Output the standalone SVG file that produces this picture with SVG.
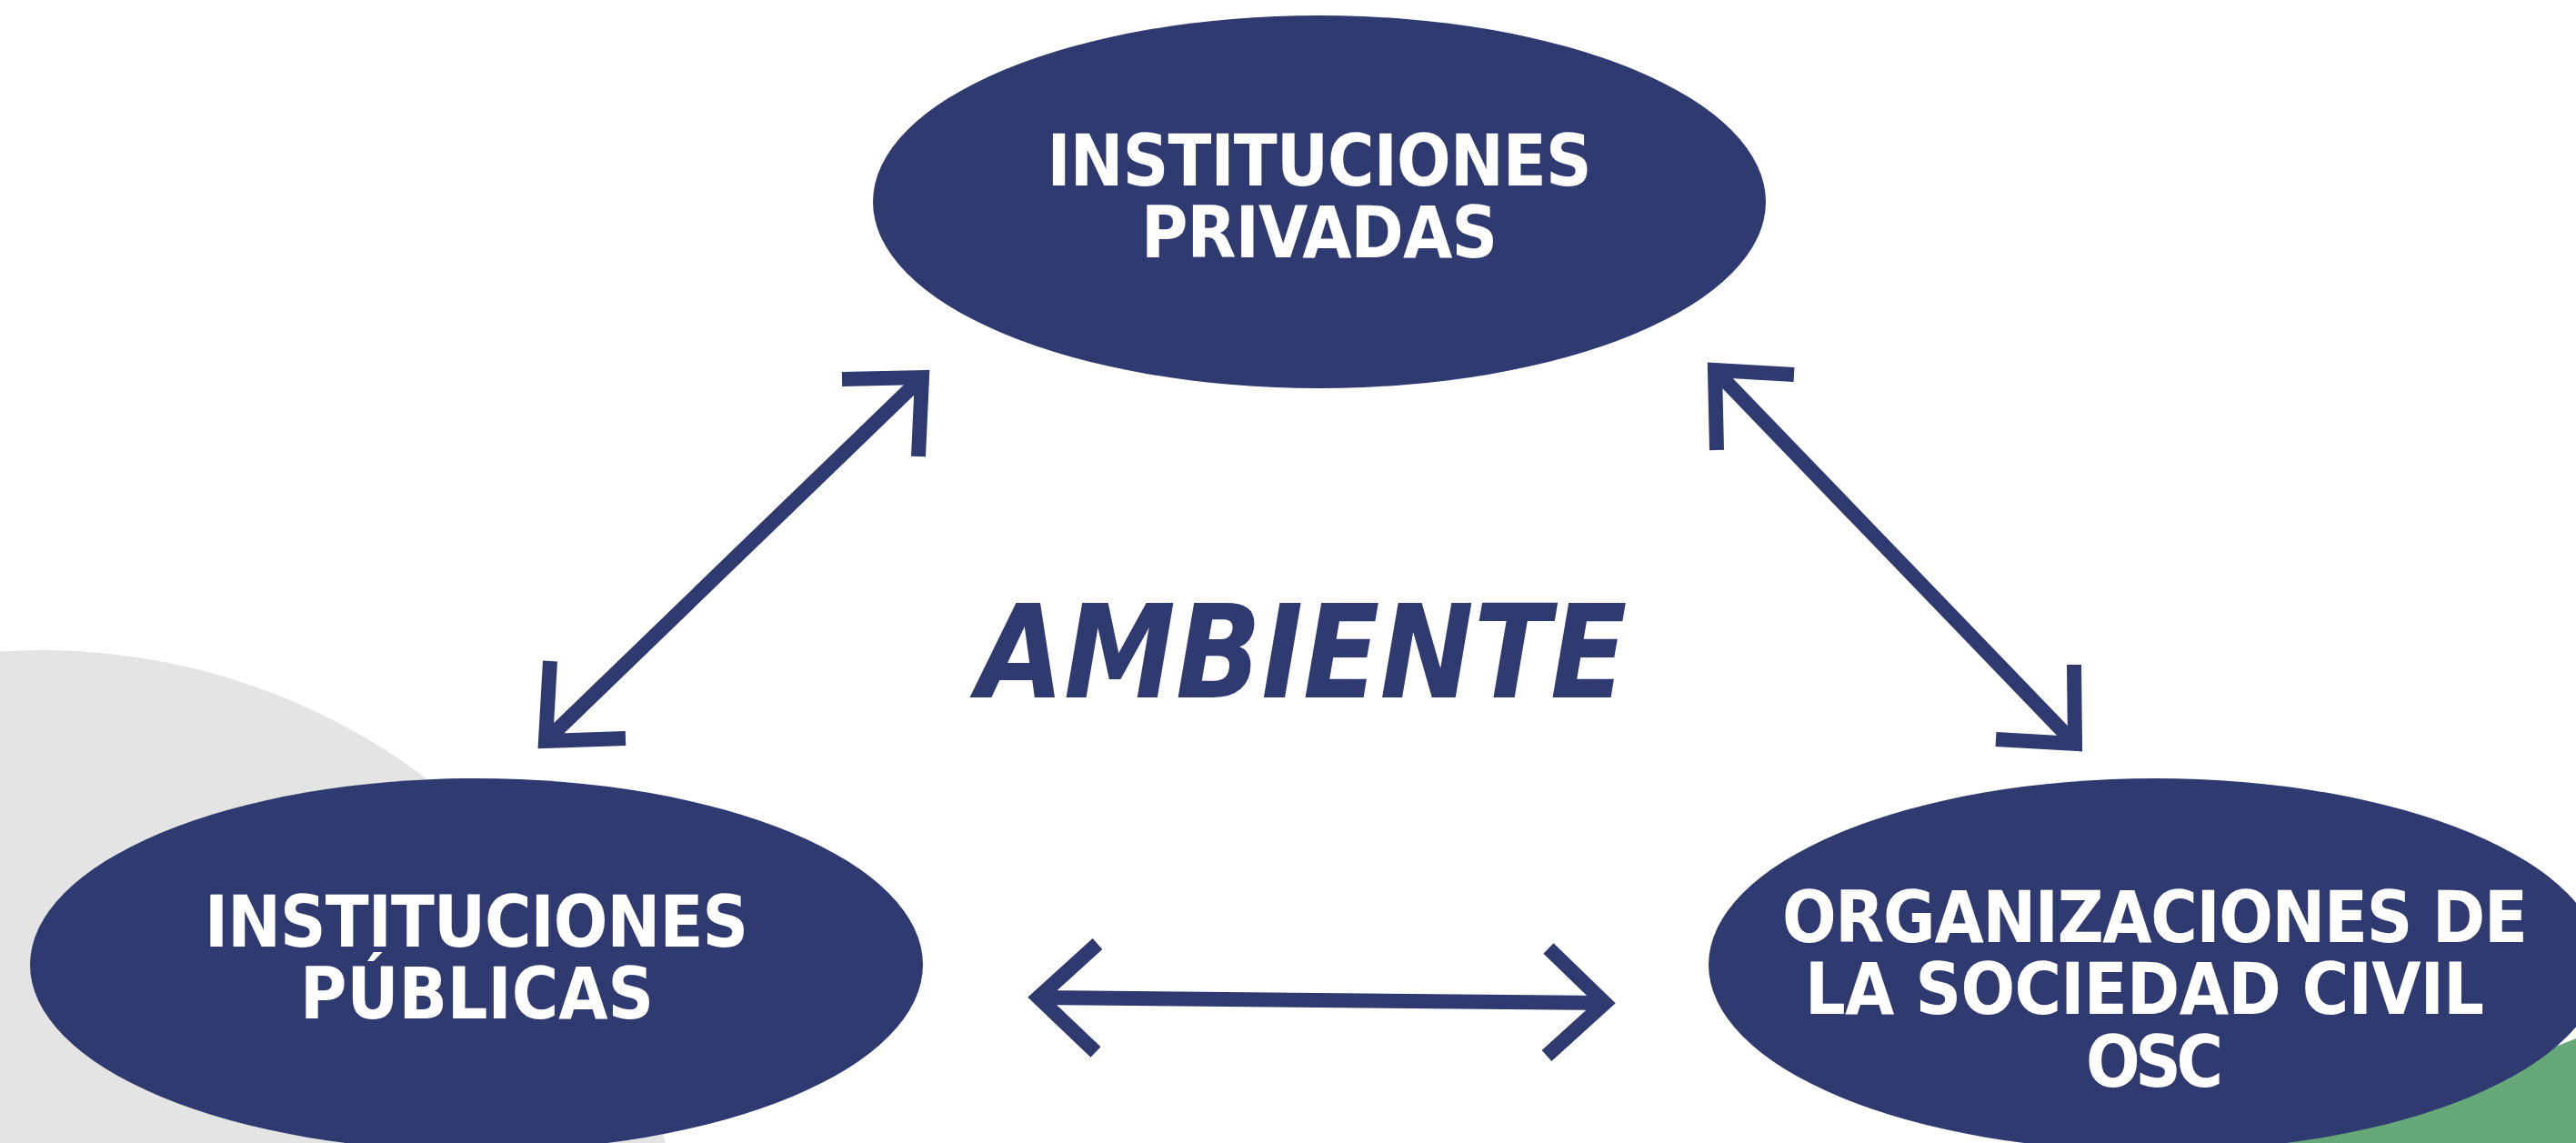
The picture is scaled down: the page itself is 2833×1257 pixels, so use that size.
<svg xmlns="http://www.w3.org/2000/svg" width="2833" height="1257" viewBox="0 0 2833 1257">
  <style>
    .node { fill: #2f3a70; }
    .lbl { fill: #ffffff; font-family: "DejaVu Sans Condensed", "DejaVu Sans", "Liberation Sans", sans-serif; font-stretch: condensed; font-weight: bold; font-size: 78px; text-anchor: middle; }
    .title { fill: #2f3a70; font-family: "DejaVu Sans Condensed", "DejaVu Sans", "Liberation Sans", sans-serif; font-stretch: condensed; font-weight: bold; font-style: italic; font-size: 142px; text-anchor: middle; }
    .con { fill: none; stroke: #2f3a70; stroke-width: 16; stroke-linecap: butt; stroke-linejoin: miter; stroke-miterlimit: 10; }
  </style>
  <rect width="2833" height="1257" fill="#ffffff"/>
  <g id="background">
    <circle cx="46" cy="1420" r="705" fill="#e4e4e4"/>
    <path d="M 2380 1257 C 2600 1235, 2760 1172, 2833 1142 L 2833 1257 Z" fill="#67a878"/>
  </g>
  <g id="node-privadas">
    <ellipse class="node" cx="1451" cy="222" rx="491" ry="205"/>
    <text class="lbl" x="1451" y="204" textLength="599">INSTITUCIONES</text>
    <text class="lbl" x="1451" y="283" textLength="392">PRIVADAS</text>
  </g>
  <g id="node-publicas">
    <ellipse class="node" cx="524" cy="1061" rx="491" ry="205"/>
    <text class="lbl" x="524" y="1041" textLength="598">INSTITUCIONES</text>
    <text class="lbl" x="524.5" y="1120" textLength="389">PÚBLICAS</text>
  </g>
  <g id="node-osc">
    <ellipse class="node" cx="2370" cy="1061" rx="491" ry="205"/>
    <text class="lbl" x="2370" y="1036" textLength="820">ORGANIZACIONES DE</text>
    <text class="lbl" x="2358.5" y="1115" textLength="747">LA SOCIEDAD CIVIL</text>
    <text class="lbl" x="2369.5" y="1195" textLength="151">OSC</text>
  </g>
  <g id="label-ambiente">
    <text class="title" x="1432" y="767" textLength="715" lengthAdjust="spacingAndGlyphs">AMBIENTE</text>
  </g>
  <g id="connectors">
    <line class="con" x1="600" y1="815" x2="1014" y2="415"/>
    <polyline class="con" points="926,417 1014,415 1010,502"/>
    <polyline class="con" points="605,727 600,815 688,812"/>
    <line class="con" x1="1886" y1="407" x2="2282" y2="818"/>
    <polyline class="con" points="1973,412 1886,407 1888,495"/>
    <polyline class="con" points="2281,731 2282,818 2195,813"/>
    <line class="con" x1="1142" y1="1097" x2="1765" y2="1103"/>
    <polyline class="con" points="1207,1038 1142,1097 1205,1157"/>
    <polyline class="con" points="1703,1043 1765,1103 1701,1161"/>
  </g>
</svg>
